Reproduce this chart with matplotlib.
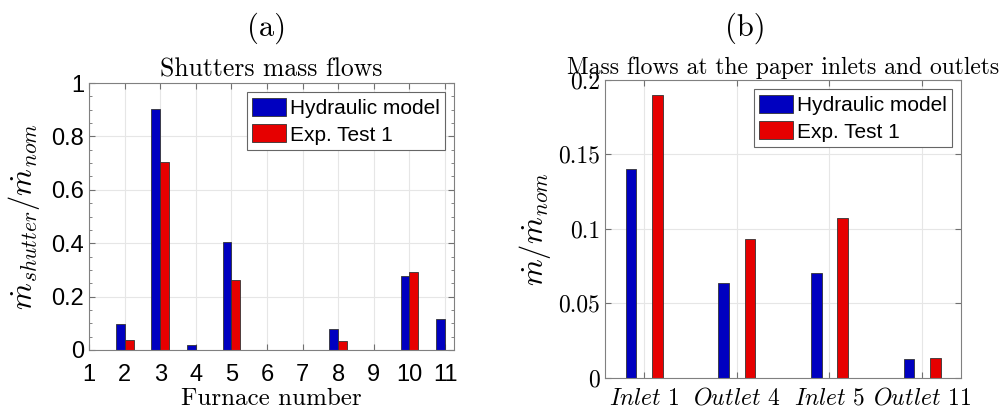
import matplotlib
matplotlib.use("Agg")
import matplotlib.pyplot as plt
from matplotlib.ticker import MultipleLocator
import numpy as np

plt.rcParams['mathtext.fontset'] = 'cm'
plt.rcParams['axes.unicode_minus'] = False

# (a) shutters
furnace = np.arange(1, 12)
shut_model = [0, 0.096, 0.904, 0.0175, 0.404, 0, 0, 0.079, 0, 0.2775, 0.1175]
shut_exp = [0, 0.0375, 0.704, 0, 0.2625, 0, 0, 0.0325, 0, 0.291, 0]

# (b) paper inlets / outlets
ports = [r'$Inlet$ 1', r'$Outlet$ 4', r'$Inlet$ 5', r'$Outlet$ 11']
port_model = [0.140, 0.0638, 0.0705, 0.0123]
port_exp = [0.1897, 0.0934, 0.1075, 0.0132]

blue = '#0000C0'
red = '#E60000'
serif = 'cmr10'
sans = 'Liberation Sans'

fig = plt.figure(figsize=(10.01, 4.11), dpi=100)
W, H = 1001, 411
ax1 = fig.add_axes([89 / W, 1 - 350 / H, (454 - 89) / W, (350 - 83) / H])
ax2 = fig.add_axes([605 / W, 1 - 377.7 / H, (961 - 605) / W, (377.7 - 80) / H])


def style(ax):
    for s in ax.spines.values():
        s.set_color('#808080')
        s.set_linewidth(0.8)
    ax.grid(True, color='#E6E6E6', linewidth=0.8)
    ax.set_axisbelow(True)
    ax.tick_params(which='both', direction='in', top=True, right=True,
                   color='#707070')
    ax.tick_params(which='major', length=4)
    ax.tick_params(which='minor', length=2)


def add_legend(ax):
    leg = ax.legend(loc='upper right', prop={'family': sans, 'size': 15},
                    fancybox=False, edgecolor='#666666', framealpha=1,
                    handlelength=1.65, handleheight=0.95, handletextpad=0.15,
                    borderpad=0.25, labelspacing=0.32, borderaxespad=0.45)
    leg.get_frame().set_linewidth(0.8)
    return leg


# left panel
w1 = 0.25
ax1.bar(furnace - w1 / 2, shut_model, w1, color=blue, edgecolor='#333333',
        linewidth=0.6, label='Hydraulic model')
ax1.bar(furnace + w1 / 2, shut_exp, w1, color=red, edgecolor='#333333',
        linewidth=0.6, label='Exp. Test 1')
ax1.set_xlim(1, 11.25)
ax1.set_ylim(0, 1)
ax1.set_xticks(furnace)
ax1.set_xticklabels([str(f) for f in furnace])
ax1.set_yticks([0, 0.2, 0.4, 0.6, 0.8, 1])
ax1.set_yticklabels(['0', '0.2', '0.4', '0.6', '0.8', '1'])
ax1.yaxis.set_minor_locator(MultipleLocator(0.05))
style(ax1)
for lab in ax1.get_xticklabels() + ax1.get_yticklabels():
    lab.set_fontfamily(sans)
    lab.set_fontsize(17)
ax1.tick_params(axis='x', pad=10)
ax1.set_xlabel('Furnace number', fontfamily=serif, fontsize=18, labelpad=1.5)
ax1.set_ylabel(r'$\dot{m}_{shutter}/\dot{m}_{nom}$', fontsize=22, labelpad=7)
ax1.set_title('Shutters mass flows', fontfamily=serif, fontsize=18.5, pad=5)
add_legend(ax1)

# right panel
x2 = np.arange(1, len(ports) + 1)
w2 = 0.115
off = 0.143
ax2.bar(x2 - off, port_model, w2, color=blue, edgecolor='#333333',
        linewidth=0.6, label='Hydraulic model')
ax2.bar(x2 + off, port_exp, w2, color=red, edgecolor='#333333',
        linewidth=0.6, label='Exp. Test 1')
ax2.set_xlim(0.576, 4.42)
ax2.set_ylim(0, 0.2)
ax2.set_xticks(x2)
ax2.set_xticklabels(ports)
ax2.set_yticks([0, 0.05, 0.1, 0.15, 0.2])
ax2.set_yticklabels(['0', '0.05', '0.1', '0.15', '0.2'])
style(ax2)
for lab in ax2.get_xticklabels() + ax2.get_yticklabels():
    lab.set_fontfamily(serif)
    lab.set_fontsize(17)
ax2.tick_params(axis='x', pad=7)
ax2.set_ylabel(r'$\dot{m}/\dot{m}_{nom}$', fontsize=22, labelpad=4)
ax2.set_title('Mass flows at the paper inlets and outlets', fontfamily=serif,
              fontsize=17, pad=4)
add_legend(ax2)

fig.text(267 / W, 1 - 28 / H, '(a)', fontfamily=serif, fontsize=22,
         ha='center', va='center')
fig.text(745 / W, 1 - 28 / H, '(b)', fontfamily=serif, fontsize=22,
         ha='center', va='center')

fig.savefig('out.png', dpi=100)
